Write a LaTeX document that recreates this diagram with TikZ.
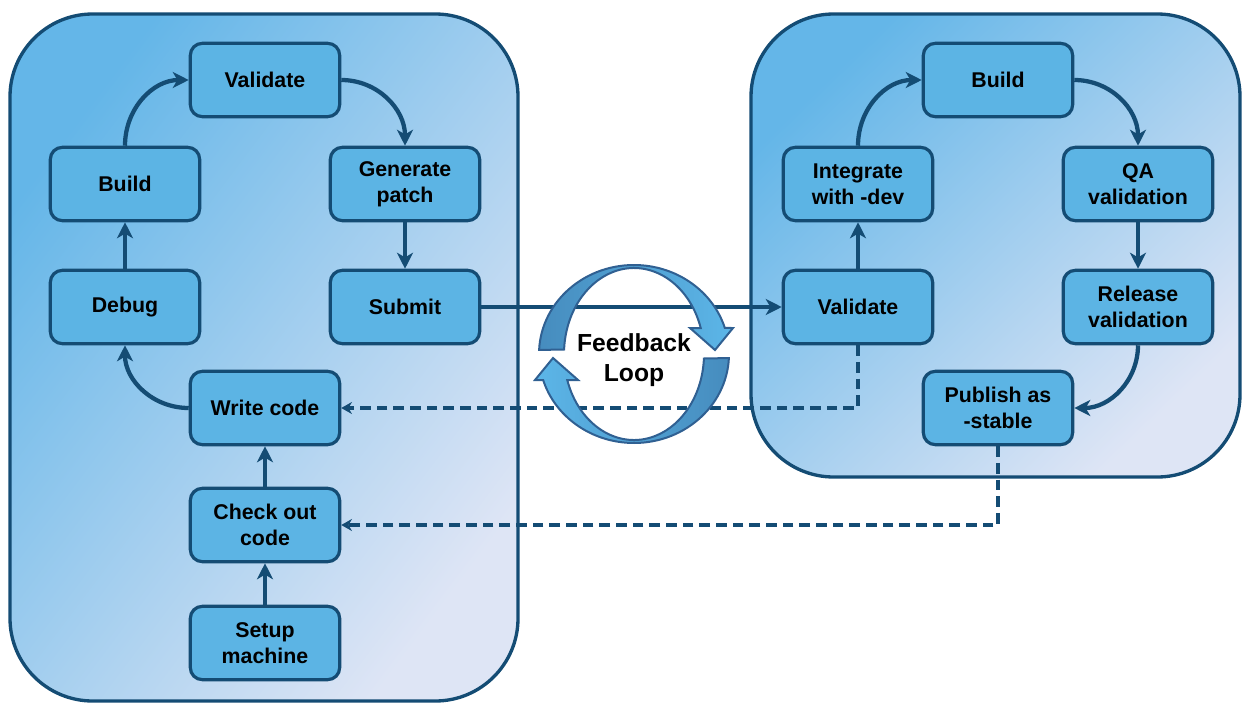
\documentclass[tikz,border=0pt]{standalone}
\usepackage{fontspec}
\setmainfont{Liberation Sans}
\usetikzlibrary{arrows.meta}

\definecolor{boxblue}{RGB}{92,180,228}
\definecolor{darkline}{RGB}{20,76,116}
\definecolor{panelA}{RGB}{100,182,232}
\definecolor{panelM}{RGB}{182,200,238}
\definecolor{panelB}{RGB}{222,229,245}
\definecolor{loopdark}{RGB}{70,140,190}
\definecolor{looplight}{RGB}{92,182,232}
\definecolor{loopedge}{RGB}{48,96,146}

\tikzset{every picture/.style={line width=0.75pt}}
\tikzset{
  stepbox/.style={draw=darkline, line width=2.4pt, fill=boxblue, rounded corners=9pt,
    minimum width=112pt, minimum height=55pt, align=center, inner sep=2pt,
    font=\fontsize{16}{19.5}\selectfont\bfseries},
  flow/.style={draw=darkline, line width=3.2pt, -{Stealth[length=12pt,width=12pt,inset=3.5pt]}},
  back/.style={draw=darkline, line width=2.3pt, dash pattern=on 8pt off 4.5pt, -{Stealth[length=8pt,width=9pt]}},
  panel/.style={draw=darkline, line width=2.5pt, rounded corners=62pt,
    top color=panelA, middle color=panelM, bottom color=panelB},
  loopbody/.style={draw=loopedge, line width=1.5pt},
}

\begin{document}
\begin{tikzpicture}[x=0.75pt,y=0.75pt,yscale=-1,xscale=1]
    \useasboundingbox (0,0) rectangle (1242,703);

    % panels
    \draw[panel, shading angle=53] (10,14) rectangle (518,701);
    \draw[panel, shading angle=44] (751,14) rectangle (1240,477);

    % developer side
    \node[stepbox] (valL) at (265,80) {Validate};
    \node[stepbox] (buildL) at (125,184) {Build};
    \node[stepbox] (genpatch) at (405,184) {Generate\\patch};
    \node[stepbox] (debug) at (125,307) {Debug};
    \node[stepbox] (submit) at (405,307) {Submit};
    \node[stepbox] (writecode) at (265,408) {Write code};
    \node[stepbox] (checkout) at (265,525) {Check out\\code};
    \node[stepbox] (setup) at (265,643) {Setup\\machine};

    % integration side
    \node[stepbox] (buildR) at (998,80) {Build};
    \node[stepbox] (integrate) at (858,184) {Integrate\\with -dev};
    \node[stepbox] (qaval) at (1138,184) {QA\\validation};
    \node[stepbox] (valR) at (858,307) {Validate};
    \node[stepbox] (relval) at (1138,307) {Release\\validation};
    \node[stepbox] (publish) at (998,408) {Publish as\\-stable};

    % connectors
    \draw[flow] (buildL.north) .. controls +(0,-37) and +(-36,0) .. (valL.west);
    \draw[flow] (valL.east) .. controls +(36,0) and +(0,-37) .. (genpatch.north);
    \draw[flow] (genpatch.south) -- (submit.north);
    \draw[flow] (debug.north) -- (buildL.south);
    \draw[flow] (writecode.west) .. controls +(-36,0) and +(0,35) .. (debug.south);
    \draw[flow] (checkout.north) -- (writecode.south);
    \draw[flow] (setup.north) -- (checkout.south);
    \draw[flow] (submit.east) -- (valR.west);
    \draw[flow] (valR.north) -- (integrate.south);
    \draw[flow] (integrate.north) .. controls +(0,-37) and +(-36,0) .. (buildR.west);
    \draw[flow] (buildR.east) .. controls +(36,0) and +(0,-37) .. (qaval.north);
    \draw[flow] (qaval.south) -- (relval.north);
    \draw[flow] (relval.south) .. controls +(0,35) and +(36,0) .. (publish.east);
    \draw[back] (valR.south) |- (writecode.east);
    \draw[back] (publish.south) |- (checkout.east);

    % feedback loop
    \begin{scope}[shift={(634,354)},yscale=-1]
      \draw[loopbody, left color=loopdark, right color=looplight]
        (177.4:95 and 89) arc[start angle=177.4, end angle=17, x radius=95, y radius=89]
        -- (99,26) -- (81,4) -- (56,26) -- (17.6:70 and 86)
        arc[start angle=17.6, end angle=177, x radius=70, y radius=86] -- cycle;
      \draw[loopbody, left color=looplight, right color=loopdark]
        (357.4:95 and 89) arc[start angle=357.4, end angle=197, x radius=95, y radius=89]
        -- (-99,-26) -- (-81,-4) -- (-56,-26) -- (197.6:70 and 86)
        arc[start angle=197.6, end angle=357, x radius=70, y radius=86] -- cycle;
    \end{scope}
    \node[font=\fontsize{18.5}{22}\selectfont\bfseries, align=center] (fbtext) at (634,360) {Feedback\\Loop};

\end{tikzpicture}
\end{document}
